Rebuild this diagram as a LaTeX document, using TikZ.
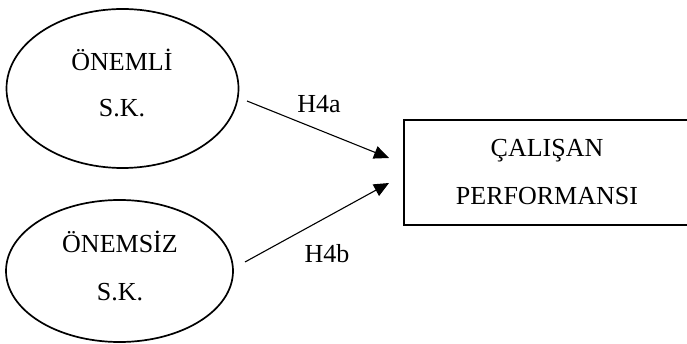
\documentclass[tikz,border=0pt]{standalone}
\usepackage{fontspec}
\setmainfont{Liberation Serif}
\usetikzlibrary{shapes.geometric,arrows.meta}
\begin{document}
\begin{tikzpicture}[x=1pt,y=-1pt,
  oval/.style={draw, ellipse, line width=1.7pt, inner sep=0pt},
  boxnode/.style={draw, rectangle, line width=1.9pt, inner sep=0pt},
  txt/.style={anchor=base, inner sep=0pt, font=\fontsize{26}{30}\selectfont},
  arr/.style={line width=1.1pt, -{Triangle[length=15pt,width=13pt]}}]
\useasboundingbox (0,0) rectangle (687,344);
\node[oval, minimum width=232pt, minimum height=159pt] (e1) at (122.5,88.5) {};
\node[oval, minimum width=227pt, minimum height=142pt] (e2) at (119.5,271) {};
\node[boxnode, minimum width=286pt, minimum height=105pt] (box) at (547,172.5) {};
\node[txt] (t1) at (122,71) {ÖNEMLİ};
\node[txt] (t2) at (122,117) {S.K.};
\node[txt] (t3) at (120,253) {ÖNEMSİZ};
\node[txt] (t4) at (120,300) {S.K.};
\node[txt] (t5) at (547,157) {ÇALIŞAN};
\node[txt] (t6) at (547,205) {PERFORMANSI};
\node[txt] (l1) at (319,113) {H4a};
\node[txt] (l2) at (327,262) {H4b};
\coordinate (a1s) at (247,101);
\coordinate (a1e) at (389,158);
\coordinate (a2s) at (245,262);
\coordinate (a2e) at (389,183);
\draw[arr] (a1s) -- (a1e);
\draw[arr] (a2s) -- (a2e);
\end{tikzpicture}
\end{document}
